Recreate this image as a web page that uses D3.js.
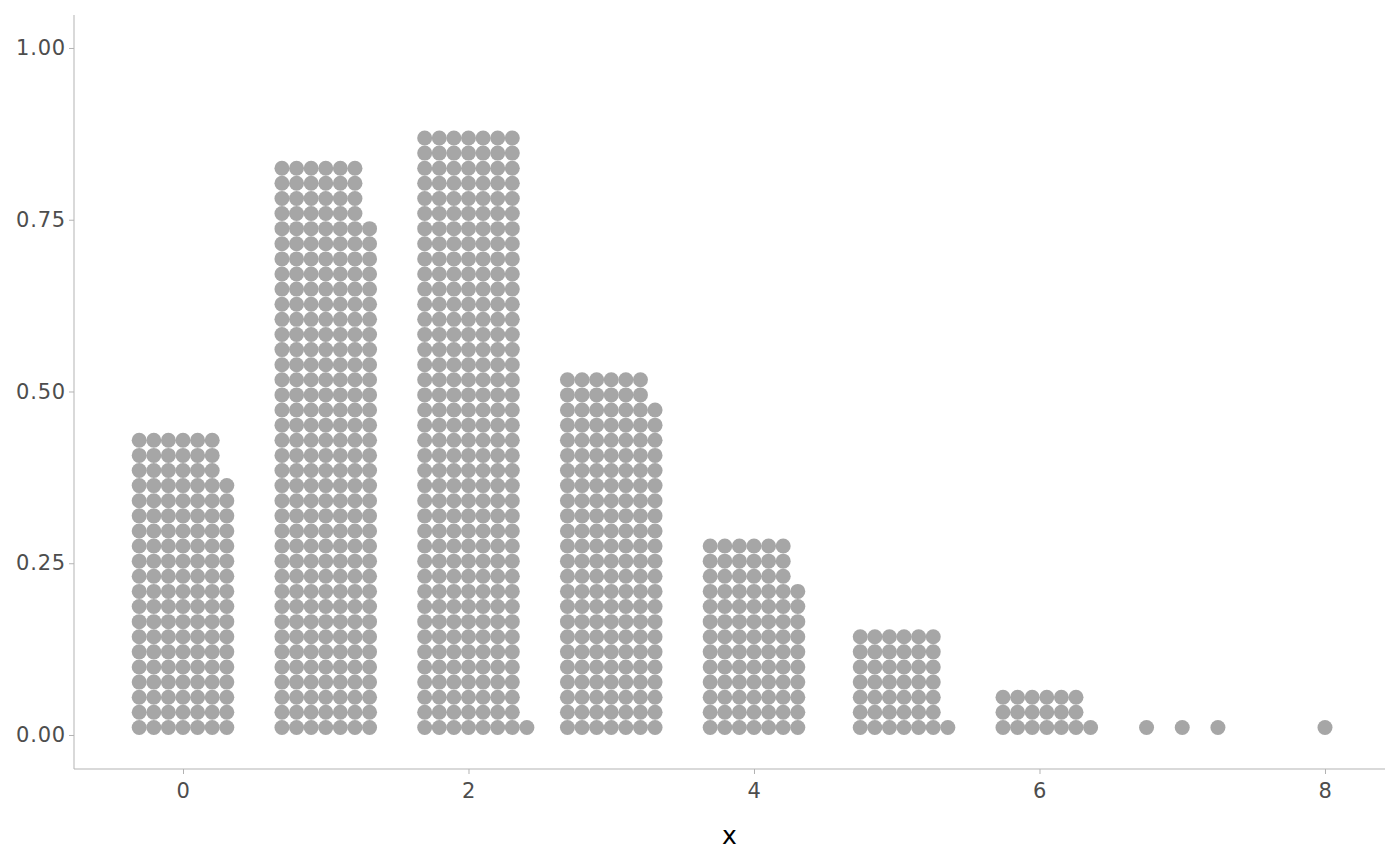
<!DOCTYPE html>
<html>
<head>
<meta charset="utf-8">
<script src="https://cdn.jsdelivr.net/npm/d3@7"></script>
<style>
  html, body { margin: 0; padding: 0; background: #ffffff; }
  svg { display: block; }
  text { font-family: "DejaVu Sans", sans-serif; }
</style>
</head>
<body>
<svg id="chart" width="1400" height="866"></svg>
<script>
// ---- data ----
const values = [0, 1, 2, 3, 4, 5, 6, 7, 8];               // discrete x values
const counts = [137, 262, 281, 166, 88, 43, 19, 3, 1];     // number of dots per value
const stackHeights = [20, 38, 40, 24, 13, 7, 3, 1, 1];     // dots per column in each dot bar
const sparseSteps = [null, null, null, null, null, null, null, 0.25, null]; // x step (data units) for sparse bins
const xTicks = [0, 2, 4, 6, 8];
const yTicks = [0, 0.25, 0.5, 0.75, 1];
const xLabel = "x";

// ---- layout ----
const plot = { left: 74, right: 1385, top: 15, bottom: 769 };
const xDomain = [-0.7636, 8.4204];
const yDomain = [-0.0495, 1.048];
const dotUnit = 0.022;   // vertical dot spacing in y units
const hStep = 14.6;      // horizontal dot spacing in px
const radius = 7.5;
const dotColor = "#a6a6a6";
const axisColor = "#b3b3b3";
const textColor = "#4d4d4d";

const svg = d3.select("#chart");
const x = d3.scaleLinear().domain(xDomain).range([plot.left, plot.right]);
const y = d3.scaleLinear().domain(yDomain).range([plot.bottom, plot.top]);

// build dots
const dots = [];
values.forEach((v, i) => {
  const n = counts[i], h = stackHeights[i];
  const ncol = Math.ceil(n / h);
  const last = n - (ncol - 1) * h;
  const ncent = (ncol > 1 && last < h / 2) ? ncol - 1 : ncol;
  for (let j = 0; j < ncol; j++) {
    const m = Math.min(h, n - j * h);
    const off = j - (ncent - 1) / 2;
    const cx = sparseSteps[i] != null ? x(v + off * sparseSteps[i]) : x(v) + off * hStep;
    for (let k = 0; k < m; k++) {
      dots.push({ cx, cy: y((k + 0.5) * dotUnit) });
    }
  }
});

svg.append("g").selectAll("circle").data(dots).join("circle")
  .attr("cx", d => d.cx).attr("cy", d => d.cy).attr("r", radius)
  .attr("fill", dotColor);

// axes
const xAxis = d3.axisBottom(x).tickValues(xTicks).tickFormat(d3.format("d")).tickSize(5).tickPadding(6);
const yAxis = d3.axisLeft(y).tickValues(yTicks).tickFormat(d3.format(".2f")).tickSize(5).tickPadding(6);

const gx = svg.append("g").attr("transform", `translate(0,${plot.bottom})`).call(xAxis);
const gy = svg.append("g").attr("transform", `translate(${plot.left},0)`).call(yAxis);

[gx, gy].forEach(g => {
  g.select(".domain").remove();
  g.selectAll(".tick line").attr("stroke", axisColor).attr("stroke-width", 1);
  g.selectAll(".tick text").attr("fill", textColor).attr("font-size", 21)
    .attr("font-family", "DejaVu Sans, sans-serif").style("letter-spacing", "0.8px");
});
gx.selectAll(".tick text").attr("dy", "0.85em");
gy.selectAll(".tick text").attr("x", -8);

svg.append("line").attr("x1", plot.left).attr("x2", plot.left)
  .attr("y1", plot.top).attr("y2", plot.bottom).attr("stroke", axisColor);
svg.append("line").attr("x1", plot.left).attr("x2", plot.right)
  .attr("y1", plot.bottom).attr("y2", plot.bottom).attr("stroke", axisColor);

svg.append("text").attr("x", (plot.left + plot.right) / 2).attr("y", 844)
  .attr("text-anchor", "middle").attr("font-size", 25).attr("fill", "#000")
  .text(xLabel);
</script>
</body>
</html>
